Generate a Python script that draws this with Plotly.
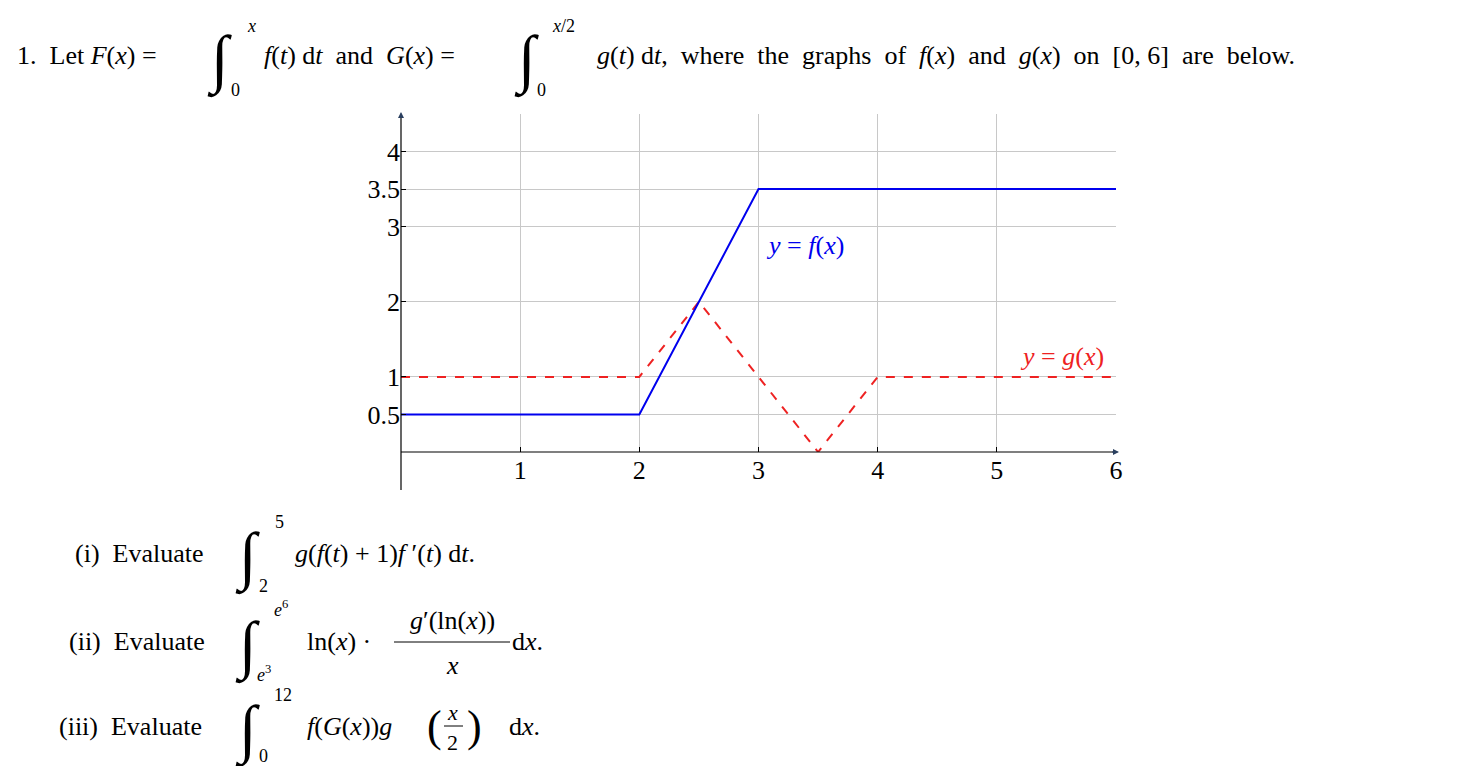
import plotly.graph_objects as go

f_x = [0, 2, 3, 6]
f_y = [0.5, 0.5, 3.5, 3.5]
g_x = [0, 2, 2.5, 3.5, 4, 6]
g_y = [1, 1, 2, 0, 1, 1]
x_ticks = [1, 2, 3, 4, 5, 6]
y_ticks = [0.5, 1, 2, 3, 3.5, 4]
y_labels = ["0.5", "1", "2", "3", "3.5", "4"]

W, H = 1464, 766
def px(x): return x / W
def py(y): return (H - y) / H

SERIF = "Liberation Serif, DejaVu Serif, serif"
fig = go.Figure()
fig.add_trace(go.Scatter(x=g_x, y=g_y, mode="lines", line=dict(color="#ee2222", width=2, dash="dash"), showlegend=False, hoverinfo="skip"))
fig.add_trace(go.Scatter(x=f_x, y=f_y, mode="lines", line=dict(color="#0000ee", width=2), showlegend=False, hoverinfo="skip"))

fig.update_layout(
    width=W, height=H, margin=dict(l=0, r=0, t=0, b=0, autoexpand=False),
    paper_bgcolor="white", plot_bgcolor="white",
    font=dict(family=SERIF, size=26, color="black"),
    xaxis=dict(domain=[px(393), px(1108)], range=[0, 6], tickvals=x_ticks, ticktext=[str(v) for v in x_ticks],
               showgrid=True, gridcolor="#c8c8c8", gridwidth=1, zeroline=False, showline=False,
               ticks="inside", ticklen=5, tickcolor="black", tickfont=dict(size=26, family=SERIF)),
    yaxis=dict(domain=[py(444), py(106)], range=[0, 4.5], tickvals=y_ticks, ticktext=y_labels,
               showgrid=True, gridcolor="#c8c8c8", gridwidth=1, zeroline=False, showline=False,
               ticks="inside", ticklen=5, tickcolor="black", tickfont=dict(size=26, family=SERIF)),
)

fig.add_shape(type="line", xref="paper", yref="paper", x0=px(393), x1=px(393), y0=py(482), y1=py(108), line=dict(color="black", width=1.2))
fig.add_shape(type="line", xref="paper", yref="paper", x0=px(393), x1=px(1106), y0=py(444), y1=py(444), line=dict(color="black", width=1.2))
fig.add_annotation(xref="paper", yref="paper", x=px(393), y=py(104), ax=0, ay=10, showarrow=True, arrowhead=2, arrowsize=1, arrowwidth=1.2, text=" ", font=dict(size=10))
fig.add_annotation(xref="paper", yref="paper", x=px(1111), y=py(444), ax=-10, ay=0, showarrow=True, arrowhead=2, arrowsize=1, arrowwidth=1.2, text=" ", font=dict(size=10))

fig.add_annotation(x=3.05, y=2.75, text="<i>y</i> = <i>f</i>(<i>x</i>)", showarrow=False, xanchor="left", font=dict(color="#0000ee", size=26, family=SERIF))
fig.add_annotation(x=5.92, y=1.27, text="<i>y</i> = <i>g</i>(<i>x</i>)", showarrow=False, xanchor="right", font=dict(color="#ee2222", size=26, family=SERIF))

def txt(x, y, s, size=26, anchor="left"):
    fig.add_annotation(xref="paper", yref="paper", x=px(x), y=py(y), text=s, showarrow=False, xanchor=anchor, yanchor="middle", borderpad=0, font=dict(size=size, family=SERIF))

INT = "∫"
txt(8, 47, "1.  Let <i>F</i>(<i>x</i>) = ")
txt(198, 52, INT, 64)
txt(238, 18, "<i>x</i>", 18); txt(222, 82, "0", 18)
txt(255, 47, "<i>f</i>(<i>t</i>) d<i>t</i>  and  <i>G</i>(<i>x</i>) = ")
txt(505, 52, INT, 64)
txt(543, 18, "<i>x</i>/2", 18); txt(528, 82, "0", 18)
txt(588, 47, "<i>g</i>(<i>t</i>) d<i>t</i>,  where  the  graphs  of  <i>f</i>(<i>x</i>)  and  <i>g</i>(<i>x</i>)  on  [0, 6]  are  below.")

txt(66, 545, "(i)  Evaluate")
txt(226, 550, INT, 64); txt(266, 514, "5", 18); txt(250, 578, "2", 18)
txt(286, 545, "<i>g</i>(<i>f</i>(<i>t</i>) + 1)<i>f</i> ′(<i>t</i>) d<i>t</i>.")

txt(60, 633, "(ii)  Evaluate")
txt(226, 638, INT, 64); txt(265, 600, "<i>e</i><sup>6</sup>", 18); txt(248, 665, "<i>e</i><sup>3</sup>", 18)
txt(298, 633, "ln(<i>x</i>) · ")
txt(444, 612, "<i>g</i>′(ln(<i>x</i>))", 26, "center")
fig.add_shape(type="line", xref="paper", yref="paper", x0=px(386), x1=px(502), y0=py(634), y1=py(634), line=dict(color="black", width=1))
txt(444, 657, "<i>x</i>", 26, "center")
txt(503, 633, "d<i>x</i>.")

txt(50, 718, "(iii)  Evaluate")
txt(226, 722, INT, 64); txt(265, 687, "12", 18); txt(250, 748, "0", 18)
txt(298, 718, "<i>f</i>(<i>G</i>(<i>x</i>))<i>g</i>")
txt(418, 718, "(", 44)
txt(445, 704, "<i>x</i>", 22, "center")
fig.add_shape(type="line", xref="paper", yref="paper", x0=px(436), x1=px(455), y0=py(718), y1=py(718), line=dict(color="black", width=1))
txt(445, 734, "2", 22, "center")
txt(458, 718, ")", 44)
txt(500, 718, "d<i>x</i>.")

fig.write_html("out.html")
